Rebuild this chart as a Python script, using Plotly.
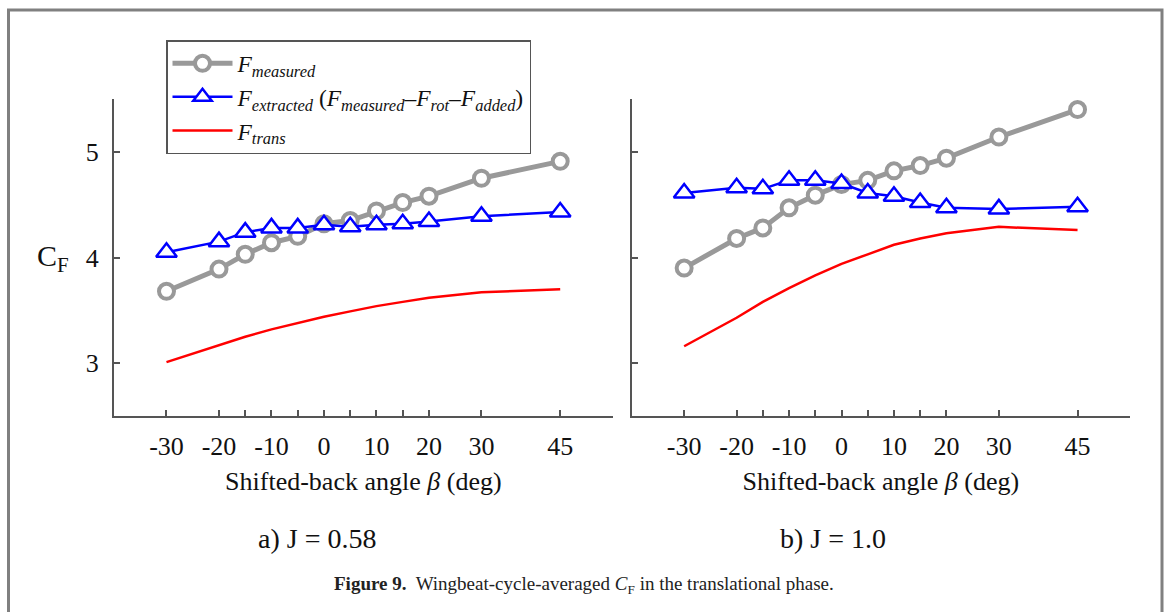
import plotly.graph_objects as go

# Shifted-back angle beta (deg) and the tick labels shown under each axis
beta = [-30, -20, -15, -10, -5, 0, 5, 10, 15, 20, 30, 45]
beta_labels = ["-30", "-20", "", "-10", "", "0", "", "10", "", "20", "30", "45"]
cf_ticks = [3, 4, 5]

# a) J = 0.58
measured_a = [3.68, 3.89, 4.03, 4.14, 4.20, 4.32, 4.35, 4.44, 4.52, 4.58, 4.75, 4.91]
extracted_a = [4.05, 4.15, 4.24, 4.28, 4.28, 4.31, 4.29, 4.31, 4.32, 4.34, 4.39, 4.43]
trans_a = [3.01, 3.17, 3.25, 3.32, 3.38, 3.44, 3.49, 3.54, 3.58, 3.62, 3.67, 3.70]

# b) J = 1.0
measured_b = [3.90, 4.18, 4.28, 4.47, 4.59, 4.69, 4.73, 4.82, 4.87, 4.94, 5.14, 5.40]
extracted_b = [4.61, 4.66, 4.65, 4.73, 4.73, 4.70, 4.61, 4.58, 4.52, 4.47, 4.46, 4.48]
trans_b = [3.16, 3.43, 3.58, 3.71, 3.83, 3.94, 4.03, 4.12, 4.18, 4.23, 4.29, 4.26]

panels = [
    ("x", "y", measured_a, extracted_a, trans_a, True),
    ("x2", "y2", measured_b, extracted_b, trans_b, False),
]

SERIF = "Liberation Serif, Times New Roman, serif"
GRAY = "#999999"
AXIS = "#555555"
INK = "#111111"

name_measured = "<i>F<sub>measured</sub></i>"
name_extracted = ("<i>F<sub>extracted</sub></i> (<i>F<sub>measured</sub></i>–"
                  "<i>F<sub>rot</sub></i>–<i>F<sub>added</sub></i>)")
name_trans = "<i>F<sub>trans</sub></i>"

fig = go.Figure()
for xa, ya, meas, extr, trans, show in panels:
    fig.add_trace(go.Scatter(
        x=beta, y=meas, xaxis=xa, yaxis=ya, mode="lines+markers",
        name=name_measured, showlegend=show, legendrank=1,
        line=dict(color=GRAY, width=5),
        marker=dict(symbol="circle", size=15, color="white",
                    line=dict(color=GRAY, width=4)),
    ))
    fig.add_trace(go.Scatter(
        x=beta, y=extr, xaxis=xa, yaxis=ya, mode="lines+markers",
        name=name_extracted, showlegend=show, legendrank=2,
        line=dict(color="#0000FF", width=2.5),
        marker=dict(symbol="triangle-up", size=18, color="white",
                    line=dict(color="#0000FF", width=2.5)),
    ))
    fig.add_trace(go.Scatter(
        x=beta, y=trans, xaxis=xa, yaxis=ya, mode="lines",
        name=name_trans, showlegend=show, legendrank=3,
        line=dict(color="#FF0000", width=2.5),
    ))

xaxis_common = dict(
    range=[-40, 55], tickmode="array", tickvals=beta, ticktext=beta_labels,
    ticks="inside", ticklen=6, tickwidth=1.5, tickcolor=AXIS,
    showline=True, linecolor=AXIS, linewidth=2, mirror=False,
    showgrid=False, zeroline=False, ticklabelstandoff=6,
    tickfont=dict(family=SERIF, size=26, color=INK),
    title=dict(text="Shifted-back angle <i>β</i> (deg)", standoff=12,
               font=dict(family=SERIF, size=26, color=INK)),
)
yaxis_common = dict(
    range=[2.5, 5.5], tickmode="array", tickvals=cf_ticks,
    ticks="inside", ticklen=6, tickwidth=1.5, tickcolor=AXIS,
    showline=True, linecolor=AXIS, linewidth=2,
    showgrid=False, zeroline=False, ticklabelstandoff=8,
    tickfont=dict(family=SERIF, size=26, color=INK),
    domain=[1 - 416 / 612, 1 - 99 / 612],
)

fig.update_layout(
    width=1167, height=612,
    margin=dict(l=0, r=0, t=0, b=0),
    paper_bgcolor="white", plot_bgcolor="white",
    font=dict(family=SERIF, color=INK),
    xaxis=dict(xaxis_common, domain=[114 / 1167, 612.7 / 1167], anchor="y"),
    xaxis2=dict(xaxis_common, domain=[631.7 / 1167, 1130 / 1167], anchor="y2"),
    yaxis=dict(yaxis_common, anchor="x"),
    yaxis2=dict(yaxis_common, anchor="x2", showticklabels=False),
    legend=dict(
        x=166 / 1167, y=1 - 40 / 612, xanchor="left", yanchor="top",
        bgcolor="white", bordercolor=AXIS, borderwidth=1.5,
        font=dict(family=SERIF, size=23.5, color=INK),
        tracegroupgap=0, itemwidth=60,
    ),
)

# Outer figure frame
fig.add_shape(type="rect", xref="paper", yref="paper",
              x0=8.5 / 1167, x1=1162 / 1167, y0=-0.2, y1=1 - 10 / 612,
              line=dict(color="#808080", width=3), layer="below")

# Vertical axis label, panel captions and figure caption
fig.add_annotation(x=71 / 1167, y=1 - 258 / 612, xref="paper", yref="paper",
                   xanchor="right", yanchor="middle",
                   text="C<sub>F</sub>", showarrow=False,
                   font=dict(family=SERIF, size=30, color=INK))
fig.add_annotation(x=317 / 1167, y=1 - 538 / 612, xref="paper", yref="paper",
                   xanchor="center", yanchor="middle",
                   text="a) J = 0.58", showarrow=False,
                   font=dict(family=SERIF, size=28, color=INK))
fig.add_annotation(x=833 / 1167, y=1 - 538 / 612, xref="paper", yref="paper",
                   xanchor="center", yanchor="middle",
                   text="b) J = 1.0", showarrow=False,
                   font=dict(family=SERIF, size=28, color=INK))
fig.add_annotation(x=584 / 1167, y=1 - 585 / 612, xref="paper", yref="paper",
                   xanchor="center", yanchor="middle",
                   text=("<b>Figure 9.</b>  Wingbeat-cycle-averaged "
                         "<i>C</i><sub>F</sub> in the translational phase."),
                   showarrow=False,
                   font=dict(family=SERIF, size=19, color="#222222"))

fig.write_html("out.html")
